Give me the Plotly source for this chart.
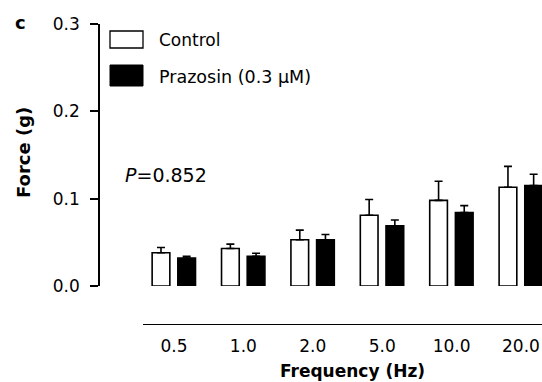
import plotly.graph_objects as go

freq_labels = ["0.5", "1.0", "2.0", "5.0", "10.0", "20.0"]
control_mean = [0.038, 0.043, 0.053, 0.081, 0.098, 0.113]
control_top = [0.044, 0.048, 0.064, 0.099, 0.120, 0.137]
prazosin_mean = [0.032, 0.034, 0.053, 0.069, 0.084, 0.115]
prazosin_top = [0.034, 0.0375, 0.059, 0.0755, 0.092, 0.128]

x_idx = list(range(len(freq_labels)))
ctrl_err = [t - m for t, m in zip(control_top, control_mean)]
praz_err = [t - m for t, m in zip(prazosin_top, prazosin_mean)]

FONT = "DejaVu Sans, Liberation Sans, Arial, sans-serif"

fig = go.Figure()
fig.add_trace(go.Bar(
    x=x_idx, y=control_mean, width=0.255, offset=-0.315,
    marker=dict(color="white", line=dict(color="black", width=1.6)),
    error_y=dict(type="data", symmetric=False, array=ctrl_err,
                 arrayminus=[0] * len(ctrl_err), color="black",
                 thickness=1.6, width=4),
    name="Control", showlegend=False))
fig.add_trace(go.Bar(
    x=x_idx, y=prazosin_mean, width=0.255, offset=0.055,
    marker=dict(color="black", line=dict(color="black", width=1.6)),
    error_y=dict(type="data", symmetric=False, array=praz_err,
                 arrayminus=[0] * len(praz_err), color="black",
                 thickness=1.6, width=4),
    name="Prazosin (0.3 μM)", showlegend=False))

W, H = 542, 382
ml, mt, mb, mr = 99, 24, 58, 0
pw, ph = W - ml - mr, H - mt - mb

def px(x):
    return (x - ml) / pw

def py(y):
    return (H - mb - y) / ph

fig.update_layout(
    width=W, height=H,
    margin=dict(l=ml, r=mr, t=mt, b=mb, pad=0),
    plot_bgcolor="white", paper_bgcolor="white",
    barmode="overlay",
    font=dict(family=FONT, size=17, color="black"),
    xaxis=dict(domain=[px(143), 1], range=[-0.4467, 5.303],
               anchor="free", position=0,
               tickmode="array", tickvals=x_idx, ticktext=freq_labels,
               showline=True, linecolor="black", linewidth=1.3,
               ticks="", showgrid=False, zeroline=False,
               tickfont=dict(size=17), ticklabelstandoff=6),
    yaxis=dict(domain=[py(286), 1], range=[0, 0.3],
               anchor="free", position=0,
               tickvals=[0, 0.1, 0.2, 0.3], ticktext=["0.0", "0.1", "0.2", "0.3"],
               showline=True, linecolor="black", linewidth=1.6,
               ticks="outside", ticklen=8, tickwidth=1.6, tickcolor="black",
               showgrid=False, zeroline=False, tickfont=dict(size=17),
               ticklabelstandoff=7),
)

shapes = [
    dict(type="rect", xref="paper", yref="paper",
         x0=px(110), x1=px(143), y0=py(48), y1=py(31),
         fillcolor="white", line=dict(color="black", width=1.3)),
    dict(type="rect", xref="paper", yref="paper",
         x0=px(110), x1=px(143), y0=py(86), y1=py(65),
         fillcolor="black", line=dict(color="black", width=1)),
]
fig.update_layout(shapes=shapes)

ann = [
    dict(text="Control", x=px(157), y=py(40), xanchor="left", yanchor="middle"),
    dict(text="Prazosin (0.3 μM)", x=px(157), y=py(77), xanchor="left", yanchor="middle",
         font=dict(size=17.5)),
    dict(text="<i>P</i>=0.852", x=px(123), y=py(175), xanchor="left", yanchor="middle",
         font=dict(size=19)),
    dict(text="<b>c</b>", x=px(20), y=py(23), xanchor="center", yanchor="middle", font=dict(size=18)),
    dict(text="<b>Force (g)</b>", x=px(23), y=py(153), xanchor="center", yanchor="middle",
         textangle=-90, font=dict(size=18)),
    dict(text="<b>Frequency (Hz)</b>", x=px(352), y=py(371), xanchor="center", yanchor="middle",
         font=dict(size=17)),
]
for a in ann:
    a.update(xref="paper", yref="paper", showarrow=False)
fig.update_layout(annotations=ann)

fig.write_html("out.html")
